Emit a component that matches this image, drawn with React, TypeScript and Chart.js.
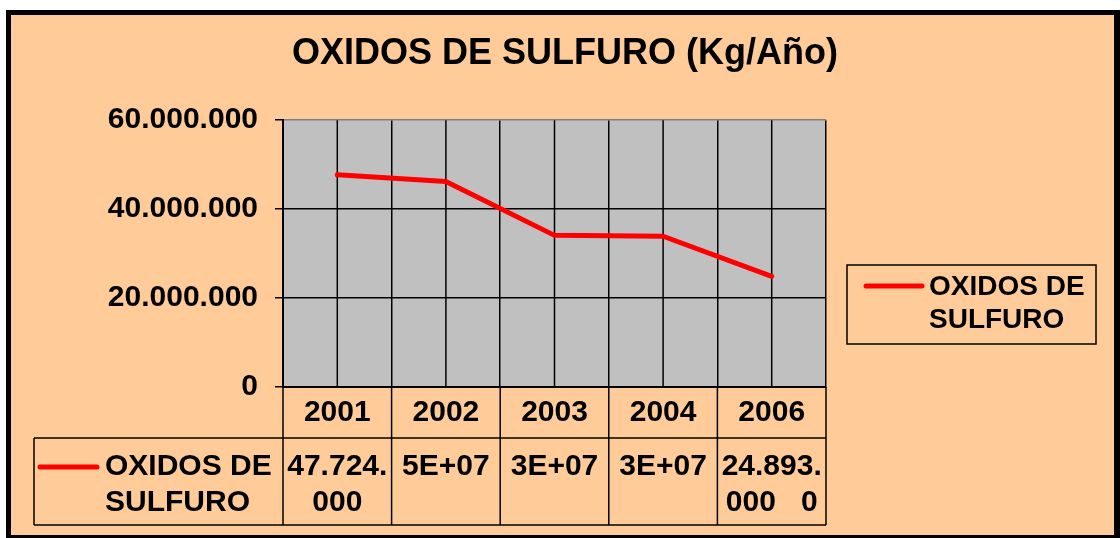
import React, { useEffect, useRef } from 'react';
import { Chart, registerables } from 'chart.js';

Chart.register(...registerables);

const FONT = '"Liberation Sans", Arial, sans-serif';

const chartTitle = 'OXIDOS DE SULFURO (Kg/Año)';
const seriesName = 'OXIDOS DE SULFURO';
const seriesNameLines = ['OXIDOS DE', 'SULFURO'];
const years = ['2001', '2002', '2003', '2004', '2006'];
const values = [47724000, 46200000, 34100000, 33900000, 24893000];
const tableLabels = [['47.724.', '000'], ['5E+07'], ['3E+07'], ['3E+07'], ['24.893.', '000   0']];
const yMin = 0;
const yMax = 60000000;
const yStep = 20000000;

const fmt = (v: number) => String(Math.round(v)).replace(/\B(?=(\d{3})+(?!\d))/g, '.');

const deco = {
  id: 'deco',
  beforeDraw(chart: any) {
    const { ctx, chartArea: a } = chart;
    ctx.save();
    ctx.fillStyle = '#000000';
    ctx.fillRect(6, 10, 1114, 528);
    ctx.fillStyle = '#FFCC99';
    ctx.fillRect(11, 15, 1103, 520);
    ctx.fillStyle = '#C0C0C0';
    ctx.fillRect(a.left, a.top, a.right - a.left, a.bottom - a.top);
    ctx.restore();
  },
  beforeDatasetsDraw(chart: any) {
    const { ctx, chartArea: a } = chart;
    const xs = chart.scales.x;
    ctx.save();
    ctx.strokeStyle = '#000';
    ctx.lineWidth = 1.5;
    years.forEach((_, i) => {
      const px = xs.getPixelForValue(i);
      ctx.beginPath();
      ctx.moveTo(px, a.top);
      ctx.lineTo(px, a.bottom);
      ctx.stroke();
    });
    ctx.restore();
  },
  afterDraw(chart: any) {
    const { ctx, chartArea: a } = chart;
    const xs = chart.scales.x;
    const n = years.length;
    const w = (a.right - a.left) / n;
    const rowTop = xs.bottom;
    const tableBottom = rowTop + 87;
    const tableLeft = 34;
    ctx.save();
    ctx.strokeStyle = '#000';
    ctx.lineWidth = 1.5;
    for (let i = 0; i <= n; i++) {
      const bx = a.left + i * w;
      ctx.beginPath();
      ctx.moveTo(bx, a.bottom);
      ctx.lineTo(bx, tableBottom);
      ctx.stroke();
    }
    ctx.beginPath();
    ctx.moveTo(tableLeft, rowTop);
    ctx.lineTo(tableLeft, tableBottom);
    ctx.moveTo(tableLeft, rowTop);
    ctx.lineTo(a.right, rowTop);
    ctx.moveTo(tableLeft, tableBottom);
    ctx.lineTo(a.right, tableBottom);
    ctx.stroke();

    ctx.fillStyle = '#000';
    ctx.font = `bold 30px ${FONT}`;
    ctx.textBaseline = 'middle';
    ctx.textAlign = 'center';
    tableLabels.forEach((lines, i) => {
      const px = xs.getPixelForValue(i);
      lines.forEach((t, k) => ctx.fillText(t, px, rowTop + 29 + k * 36));
    });
    ctx.textAlign = 'left';
    seriesNameLines.forEach((t, k) => ctx.fillText(t, 105, rowTop + 29 + k * 36));

    ctx.strokeStyle = '#FF0000';
    ctx.lineWidth = 5;
    ctx.lineCap = 'round';
    ctx.beginPath();
    ctx.moveTo(40, rowTop + 29);
    ctx.lineTo(97, rowTop + 29);
    ctx.stroke();

    // legend
    ctx.strokeStyle = '#000';
    ctx.lineWidth = 1.5;
    ctx.lineCap = 'butt';
    ctx.strokeRect(847, 265, 249, 79);
    ctx.strokeStyle = '#FF0000';
    ctx.lineWidth = 5;
    ctx.lineCap = 'round';
    ctx.beginPath();
    ctx.moveTo(866, 286);
    ctx.lineTo(922, 286);
    ctx.stroke();
    ctx.font = `bold 28px ${FONT}`;
    ctx.fillStyle = '#000';
    ctx.textAlign = 'left';
    seriesNameLines.forEach((t, k) => ctx.fillText(t, 929, 287 + k * 33));
    ctx.restore();
  },
};

export default function App() {
  const ref = useRef<HTMLCanvasElement>(null);
  useEffect(() => {
    document.body.style.margin = '0';
    const chart = new Chart(ref.current as HTMLCanvasElement, {
      type: 'line',
      data: {
        labels: years,
        datasets: [
          {
            label: seriesName,
            data: values,
            borderColor: '#FF0000',
            backgroundColor: '#FF0000',
            borderWidth: 5,
            pointRadius: 0,
            tension: 0,
            borderCapStyle: 'round',
            borderJoinStyle: 'round',
            xAxisID: 'x',
            yAxisID: 'y',
          },
        ],
      },
      options: {
        responsive: false,
        animation: false,
        layout: { padding: { top: 12, left: 20, right: 10, bottom: 100 } },
        plugins: {
          legend: { display: false },
          tooltip: { enabled: false },
          title: {
            display: true,
            text: chartTitle,
            color: '#000',
            font: { family: FONT, size: 36, weight: 'bold' },
            padding: { top: 20, bottom: 45 },
          },
        },
        scales: {
          x: {
            type: 'category',
            offset: true,
            grid: {
              offset: true,
              color: (c: any) => (c.index === years.length ? '#808080' : '#000'),
              lineWidth: 1.5,
              drawTicks: false,
            },
            border: { display: true, color: '#000', width: 2 },
            ticks: {
              color: '#000',
              font: { family: FONT, size: 30, weight: 'bold' },
              padding: 8,
              maxRotation: 0,
              autoSkip: false,
            },
            afterFit: (s: any) => {
              s.height = 51;
            },
          },
          y: {
            type: 'linear',
            position: 'left',
            min: yMin,
            max: yMax,
            ticks: {
              stepSize: yStep,
              callback: (v: any) => fmt(Number(v)),
              color: '#000',
              font: { family: FONT, size: 30, weight: 'bold' },
              padding: 17,
            },
            grid: {
              color: (c: any) => (c.tick && c.tick.value === yMax ? '#808080' : '#000'),
              tickColor: '#000',
              tickLength: 8,
              lineWidth: 1.5,
            },
            border: { color: '#000', width: 2 },
            afterFit: (s: any) => {
              s.width = 263;
            },
          },
          yR: {
            type: 'linear',
            position: 'right',
            display: true,
            grid: { display: false },
            ticks: { display: false },
            border: { display: false },
            afterFit: (s: any) => {
              s.width = 284;
            },
          },
        },
      } as any,
      plugins: [deco],
    });
    return () => chart.destroy();
  }, []);
  return (
    <div style={{ position: 'absolute', left: 0, top: 0, width: 1120, height: 538 }}>
      <canvas ref={ref} width={1120} height={538} style={{ display: 'block' }} />
    </div>
  );
}
